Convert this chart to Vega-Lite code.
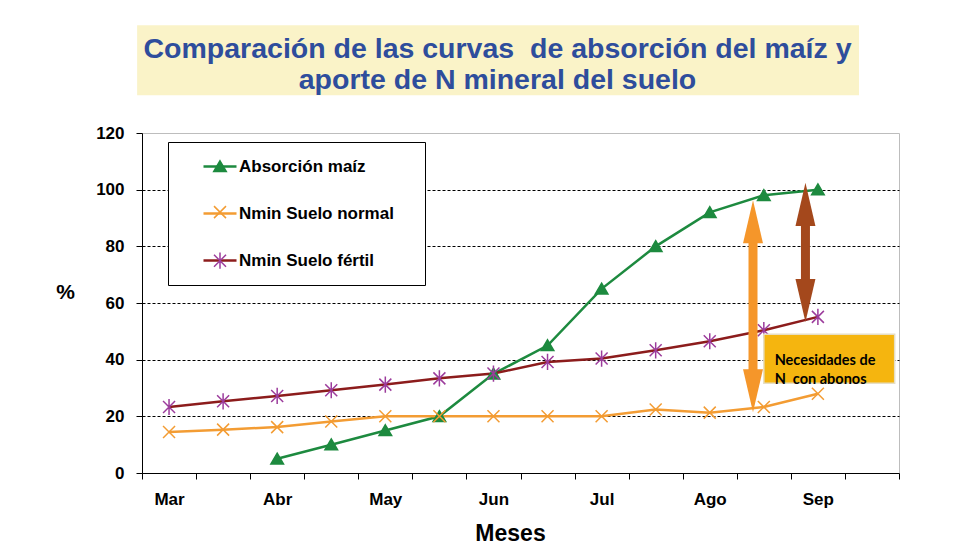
{
  "$schema": "https://vega.github.io/schema/vega-lite/v6.json",
  "width": 757,
  "height": 340,
  "autosize": "none",
  "padding": {"left": 142, "top": 133, "right": 81, "bottom": 87},
  "background": "white",
  "config": {
    "font": "Liberation Sans",
    "view": {"stroke": "#BDBDBD", "strokeWidth": 1}
  },
  "title": {
    "text": ["Comparación de las curvas \u00a0de absorción del maíz y", "aporte de N mineral del suelo"],
    "anchor": "middle",
    "frame": "group",
    "dx": -23,
    "offset": -69,
    "font": "Liberation Sans",
    "fontSize": 28.5,
    "fontWeight": "bold",
    "color": "#2E4D9C",
    "lineHeight": 31
  },
  "datasets": {
    "series": [
      {"mes": 2, "valor": 5, "serie": "Absorción maíz"},
      {"mes": 3, "valor": 10, "serie": "Absorción maíz"},
      {"mes": 4, "valor": 15, "serie": "Absorción maíz"},
      {"mes": 5, "valor": 20, "serie": "Absorción maíz"},
      {"mes": 6, "valor": 35, "serie": "Absorción maíz"},
      {"mes": 7, "valor": 45, "serie": "Absorción maíz"},
      {"mes": 8, "valor": 65, "serie": "Absorción maíz"},
      {"mes": 9, "valor": 80, "serie": "Absorción maíz"},
      {"mes": 10, "valor": 92, "serie": "Absorción maíz"},
      {"mes": 11, "valor": 98, "serie": "Absorción maíz"},
      {"mes": 12, "valor": 100, "serie": "Absorción maíz"},
      {"mes": 0, "valor": 14.5, "serie": "Nmin Suelo normal"},
      {"mes": 1, "valor": 15.3, "serie": "Nmin Suelo normal"},
      {"mes": 2, "valor": 16.2, "serie": "Nmin Suelo normal"},
      {"mes": 3, "valor": 18.2, "serie": "Nmin Suelo normal"},
      {"mes": 4, "valor": 20, "serie": "Nmin Suelo normal"},
      {"mes": 5, "valor": 20, "serie": "Nmin Suelo normal"},
      {"mes": 6, "valor": 20, "serie": "Nmin Suelo normal"},
      {"mes": 7, "valor": 20, "serie": "Nmin Suelo normal"},
      {"mes": 8, "valor": 20, "serie": "Nmin Suelo normal"},
      {"mes": 9, "valor": 22.4, "serie": "Nmin Suelo normal"},
      {"mes": 10, "valor": 21.3, "serie": "Nmin Suelo normal"},
      {"mes": 11, "valor": 23.3, "serie": "Nmin Suelo normal"},
      {"mes": 12, "valor": 28, "serie": "Nmin Suelo normal"},
      {"mes": 0, "valor": 23.3, "serie": "Nmin Suelo fértil"},
      {"mes": 1, "valor": 25.3, "serie": "Nmin Suelo fértil"},
      {"mes": 2, "valor": 27.2, "serie": "Nmin Suelo fértil"},
      {"mes": 3, "valor": 29.2, "serie": "Nmin Suelo fértil"},
      {"mes": 4, "valor": 31.2, "serie": "Nmin Suelo fértil"},
      {"mes": 5, "valor": 33.4, "serie": "Nmin Suelo fértil"},
      {"mes": 6, "valor": 35.1, "serie": "Nmin Suelo fértil"},
      {"mes": 7, "valor": 39.2, "serie": "Nmin Suelo fértil"},
      {"mes": 8, "valor": 40.4, "serie": "Nmin Suelo fértil"},
      {"mes": 9, "valor": 43.3, "serie": "Nmin Suelo fértil"},
      {"mes": 10, "valor": 46.5, "serie": "Nmin Suelo fértil"},
      {"mes": 11, "valor": 50.4, "serie": "Nmin Suelo fértil"},
      {"mes": 12, "valor": 55.1, "serie": "Nmin Suelo fértil"}
    ],
    "ejes_flecha": [
      {"flecha": "normal", "mes": 10.8, "valor": 34, "valor2": 84},
      {"flecha": "fertil", "mes": 11.77, "valor": 67, "valor2": 89}
    ],
    "puntas": [
      {"flecha": "normal", "mes": 10.8, "valor": 96.3, "dir": "up"},
      {"flecha": "normal", "mes": 10.8, "valor": 21.4, "dir": "down"},
      {"flecha": "fertil", "mes": 11.77, "valor": 102.4, "dir": "up"},
      {"flecha": "fertil", "mes": 11.77, "valor": 53.3, "dir": "down"}
    ],
    "caja_titulo": [
      {"mes": -0.59, "mes2": 12.76, "valor": 133.3, "valor2": 158}
    ],
    "caja": [
      {"mes": 11.0, "mes2": 13.42, "valor": 49, "valor2": 31.7}
    ],
    "nota": [
      {"mes": 11.2, "valor": 39.6, "texto": "Necesidades de\nN \u00a0con abonos"}
    ]
  },
  "encoding": {
    "x": {
      "field": "mes",
      "type": "quantitative",
      "scale": {"domain": [-0.5, 13.5], "nice": false, "zero": false},
      "axis": {
        "title": "Meses",
        "values": [-0.5, 0.5, 1.5, 2.5, 3.5, 4.5, 5.5, 6.5, 7.5, 8.5, 9.5, 10.5, 11.5, 12.5, 13.5],
        "labelExpr": "(datum.value < 12.6 && (datum.value + 0.5) % 2 == 0) ? ['Mar','Abr','May','Jun','Jul','Ago','Sep'][(datum.value + 0.5) / 2] : ''",
        "labelOffset": 27,
        "labelFlush": false,
        "labelOverlap": false,
        "labelBound": false,
        "grid": false,
        "ticks": true,
        "tickSize": 6,
        "tickColor": "black",
        "domainColor": "black",
        "labelFont": "Liberation Sans",
        "labelFontSize": 17,
        "labelFontWeight": "bold",
        "labelColor": "black",
        "labelPadding": 12,
        "titleFont": "Liberation Sans",
        "titleFontSize": 23,
        "titleFontWeight": "bold",
        "titleColor": "black",
        "titleX": 368,
        "titleY": 60,
        "titleAlign": "center",
        "titleBaseline": "middle"
      }
    },
    "y": {
      "field": "valor",
      "type": "quantitative",
      "scale": {"domain": [0, 120], "nice": false, "zero": false},
      "axis": {
        "title": "%",
        "values": [0, 20, 40, 60, 80, 100, 120],
        "grid": true,
        "gridColor": "black",
        "gridDash": [3, 2],
        "gridWidth": 1,
        "gridOpacity": {"condition": {"test": "datum.value == 0 || datum.value == 120", "value": 0}, "value": 1},
        "tickSize": 6,
        "tickColor": "black",
        "domainColor": "black",
        "labelFont": "Liberation Sans",
        "labelFontSize": 17,
        "labelFontWeight": "bold",
        "labelColor": "black",
        "labelPadding": 12,
        "titleFont": "Liberation Sans",
        "titleFontSize": 21,
        "titleFontWeight": "bold",
        "titleColor": "black",
        "titleAngle": 0,
        "titleX": -77,
        "titleY": 159,
        "titleAlign": "center",
        "titleBaseline": "middle"
      }
    }
  },
  "layer": [
    {
      "data": {"name": "caja_titulo"},
      "mark": {"type": "rect", "fill": "#FAF3C8", "clip": false},
      "encoding": {"x2": {"field": "mes2"}, "y2": {"field": "valor2"}}
    },
    {
      "data": {"name": "series"},
      "mark": {"type": "line", "strokeWidth": 2.5},
      "encoding": {
        "color": {
          "field": "serie",
          "type": "nominal",
          "sort": ["Absorción maíz", "Nmin Suelo normal", "Nmin Suelo fértil"],
          "scale": {
            "range": ["#1D8A3F", "#F39C33", "#8C1C1C"]
          },
          "legend": {
            "orient": "none",
            "legendX": 26,
            "legendY": 9,
            "direction": "vertical",
            "title": " ",
            "titleOrient": "right",
            "titlePadding": 15,
            "titleFontSize": 17,
            "padding": 16,
            "symbolOffset": 27.5,
            "labelOffset": 10.5,
            "rowPadding": 29,
            "symbolType": "M-2.75,0H2.75",
            "symbolSize": 144,
            "symbolStrokeWidth": 2.5,
            "labelFont": "Liberation Sans",
            "labelFontSize": 17,
            "labelFontWeight": "bold",
            "labelColor": "black",
            "labelLimit": 300,
            "strokeColor": "black",
            "fillColor": "white"
          }
        }
      }
    },
    {
      "data": {"name": "series"},
      "mark": {"type": "point", "filled": true, "opacity": 1, "size": 144, "strokeWidth": 1.5},
      "encoding": {
        "shape": {
          "field": "serie",
          "type": "nominal",
          "scale": {
            "domain": ["Absorción maíz", "Nmin Suelo normal", "Nmin Suelo fértil"],
            "range": ["M0,-0.95L1.05,0.85L-1.05,0.85Z", "M-1,-1L1,1M-1,1L1,-1", "M-1,-1L1,1M-1,1L1,-1M0,-1.35V1.35"]
          },
          "legend": {
            "orient": "none",
            "legendX": 26,
            "legendY": 9,
            "direction": "vertical",
            "title": " ",
            "titleOrient": "right",
            "titlePadding": 15,
            "titleFontSize": 17,
            "padding": 16,
            "symbolOffset": 27.5,
            "labelOffset": 10.5,
            "rowPadding": 27.6,
            "symbolSize": 144,
            "symbolStrokeWidth": 1.5,
            "labelFont": "Liberation Sans",
            "labelFontSize": 17,
            "labelFontWeight": "bold",
            "labelExpr": "''",
            "labelLimit": 300
          }
        },
        "fill": {
          "field": "serie",
          "type": "nominal",
          "scale": {
            "domain": ["Absorción maíz", "Nmin Suelo normal", "Nmin Suelo fértil"],
            "range": ["#1D8A3F", "#F39C33", "#9C3C9C"]
          },
          "legend": {
            "orient": "none",
            "legendX": 26,
            "legendY": 9,
            "direction": "vertical",
            "title": " ",
            "titleOrient": "right",
            "titlePadding": 15,
            "titleFontSize": 17,
            "padding": 16,
            "symbolOffset": 27.5,
            "labelOffset": 10.5,
            "rowPadding": 27.6,
            "symbolSize": 144,
            "symbolStrokeWidth": 1.5,
            "labelFont": "Liberation Sans",
            "labelFontSize": 17,
            "labelFontWeight": "bold",
            "labelExpr": "''",
            "labelLimit": 300
          }
        },
        "stroke": {
          "field": "serie",
          "type": "nominal",
          "scale": {
            "domain": ["Absorción maíz", "Nmin Suelo normal", "Nmin Suelo fértil"],
            "range": ["#1D8A3F", "#F39C33", "#9C3C9C"]
          },
          "legend": {
            "orient": "none",
            "legendX": 26,
            "legendY": 9,
            "direction": "vertical",
            "title": " ",
            "titleOrient": "right",
            "titlePadding": 15,
            "titleFontSize": 17,
            "padding": 16,
            "symbolOffset": 27.5,
            "labelOffset": 10.5,
            "rowPadding": 27.6,
            "symbolSize": 144,
            "symbolStrokeWidth": 1.5,
            "labelFont": "Liberation Sans",
            "labelFontSize": 17,
            "labelFontWeight": "bold",
            "labelExpr": "''",
            "labelLimit": 300
          }
        }
      }
    },
    {
      "data": {"name": "ejes_flecha"},
      "mark": {"type": "rule", "strokeWidth": 9, "strokeCap": "butt"},
      "encoding": {
        "y2": {"field": "valor2"},
        "stroke": {"condition": {"test": "datum.flecha === 'normal'", "value": "#F5962A"}, "value": "#A4481C"}
      }
    },
    {
      "data": {"name": "puntas"},
      "mark": {"type": "point", "filled": true, "opacity": 1, "size": 441, "strokeWidth": 0},
      "encoding": {
        "shape": {"condition": {"test": "datum.dir === 'up'", "value": "M0,0L0.95,4.1L-0.95,4.1Z"}, "value": "M0,0L0.95,-4.1L-0.95,-4.1Z"},
        "fill": {"condition": {"test": "datum.flecha === 'normal'", "value": "#F5962A"}, "value": "#A4481C"}
      }
    },
    {
      "data": {"name": "caja"},
      "mark": {"type": "rect", "fill": "#F5B50F", "stroke": "#E6DEC4", "strokeWidth": 1.5},
      "encoding": {"x2": {"field": "mes2"}, "y2": {"field": "valor2"}}
    },
    {
      "data": {"name": "nota"},
      "mark": {"type": "text", "align": "left", "baseline": "middle", "lineBreak": "\n", "lineHeight": 19, "font": "Lato", "fontSize": 14.5, "fontWeight": "bold", "color": "black"},
      "encoding": {"text": {"field": "texto"}}
    }
  ]
}
